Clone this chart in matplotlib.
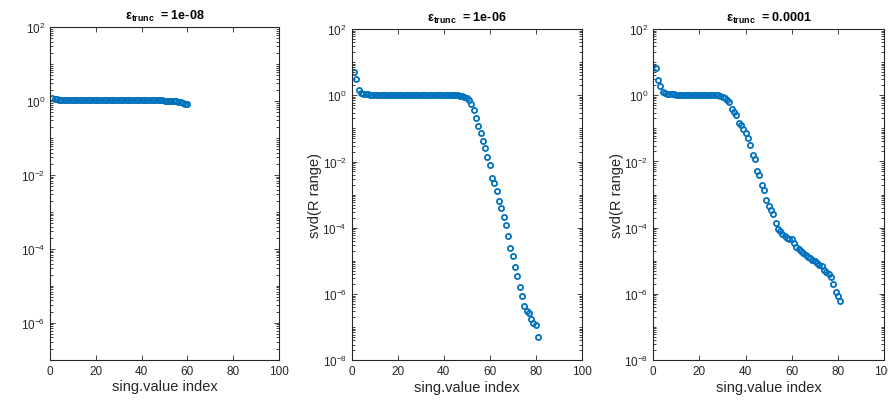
import numpy as np
import matplotlib
matplotlib.use("Agg")
import matplotlib.pyplot as plt
from matplotlib.ticker import LogLocator, NullFormatter, FixedLocator

plt.rcParams['font.family'] = ['Liberation Sans', 'DejaVu Sans']
plt.rcParams['mathtext.fontset'] = 'custom'
plt.rcParams['mathtext.rm'] = 'Liberation Sans'
plt.rcParams['mathtext.it'] = 'Liberation Sans:italic'
plt.rcParams['mathtext.bf'] = 'Liberation Sans:bold'
plt.rcParams['axes.unicode_minus'] = False

# log10 of the singular values of R, one list per truncation tolerance
eps_labels = ['1e-08', '1e-06', '0.0001']

log_sv_1e8 = [
    0.08, 0.06, 0.045, 0.035, 0.03, 0.028, 0.026, 0.025, 0.024, 0.024,
    0.023, 0.023, 0.022, 0.022, 0.022, 0.021, 0.021, 0.021, 0.02, 0.02,
    0.02, 0.02, 0.02, 0.02, 0.02, 0.019, 0.019, 0.019, 0.019, 0.019,
    0.019, 0.018, 0.018, 0.018, 0.018, 0.018, 0.018, 0.018, 0.017, 0.017,
    0.017, 0.017, 0.016, 0.016, 0.016, 0.015, 0.015, 0.014, 0.013, 0.012,
    0.01, 0.008, 0.005, 0.0, -0.01, -0.02, -0.035, -0.05, -0.07, -0.09,
]

log_sv_1e6 = [
    0.69, 0.48, 0.16, 0.07, 0.04, 0.03, 0.025, 0.022, 0.02, 0.02,
    0.02, 0.019, 0.019, 0.019, 0.018, 0.018, 0.018, 0.018, 0.017, 0.017,
    0.017, 0.017, 0.016, 0.016, 0.016, 0.016, 0.015, 0.015, 0.015, 0.015,
    0.014, 0.014, 0.014, 0.013, 0.013, 0.012, 0.012, 0.011, 0.01, 0.009,
    0.008, 0.006, 0.004, 0.002, 0.0, -0.005, -0.01, -0.025, -0.05, -0.09,
    -0.15, -0.26, -0.46, -0.70, -0.92, -1.14, -1.39, -1.59, -1.85, -2.09,
    -2.50, -2.65, -2.90, -3.18, -3.41, -3.68, -3.93, -4.24, -4.61, -4.84,
    -5.17, -5.45, -5.78, -6.07, -6.37, -6.52, -6.58, -6.75, -6.87, -6.94,
    -7.30,
]

log_sv_1e4 = [
    0.81, 0.46, 0.28, 0.11, 0.06, 0.04, 0.03, 0.025, 0.022, 0.02,
    0.02, 0.02, 0.019, 0.019, 0.018, 0.018, 0.018, 0.017, 0.017, 0.016,
    0.016, 0.015, 0.014, 0.013, 0.012, 0.01, 0.007, 0.003, -0.01, -0.04,
    -0.09, -0.15, -0.22, -0.42, -0.51, -0.61, -0.83, -0.91, -1.01, -1.13,
    -1.28, -1.51, -1.80, -1.92, -2.28, -2.40, -2.71, -2.86, -3.18, -3.35,
    -3.48, -3.60, -3.87, -4.04, -4.11, -4.19, -4.24, -4.32, -4.35, -4.35,
    -4.45, -4.59, -4.64, -4.72, -4.77, -4.84, -4.88, -4.92, -4.97, -5.01,
    -5.06, -5.14, -5.16, -5.29, -5.34, -5.40, -5.49, -5.70, -5.94, -6.05,
    -6.21,
]

series = [log_sv_1e8, log_sv_1e6, log_sv_1e4]
y_bottoms = [1e-7, 1e-8, 1e-8]

# axes boxes in figure fractions (left, bottom, width, height)
boxes = [
    (0.0563, 0.1027, 0.2579, 0.8276),
    (0.3961, 0.1012, 0.2590, 0.8242),
    (0.7357, 0.1018, 0.2598, 0.8236),
]

fig = plt.figure(figsize=(8.88, 4.02), dpi=100)
blue = '#0072BD'
tick_col = '#262626'

for i, (logs, eps, ybot, box) in enumerate(zip(series, eps_labels, y_bottoms, boxes)):
    ax = fig.add_axes(box)
    idx = np.arange(1, len(logs) + 1)
    sv = 10.0 ** np.array(logs)
    ax.semilogy(idx, sv, 'o', mfc='none', mec=blue, ms=3.7, mew=1.3)

    ax.set_xlim(0, 100)
    ax.set_ylim(ybot, 1e2)
    ax.set_xticks([0, 20, 40, 60, 80, 100])
    majors = [10.0 ** k for k in range(2, -9, -2) if 10.0 ** k >= ybot * 0.99]
    ax.yaxis.set_major_locator(FixedLocator(majors))
    ax.yaxis.set_minor_locator(LogLocator(base=10, subs=np.arange(1, 10), numticks=50))
    ax.yaxis.set_minor_formatter(NullFormatter())

    ax.tick_params(which='both', direction='in', top=True, right=True,
                   colors=tick_col, labelcolor=tick_col, labelsize=8.5, width=0.6)
    ax.tick_params(which='major', length=3.5)
    ax.tick_params(which='minor', length=2.0)
    for sp in ax.spines.values():
        sp.set_linewidth(0.8)
        sp.set_color(tick_col)

    ax.set_xlabel('sing.value index', fontsize=10.5, color=tick_col, labelpad=2)
    if i > 0:
        ax.set_ylabel('svd(R range)', fontsize=10.5, color=tick_col, labelpad=0)
    ax.set_title('ε$_{\\mathbf{trunc}}$  = ' + eps, fontsize=9,
                 fontweight='bold', pad=6)

fig.savefig('out.png', dpi=100)
